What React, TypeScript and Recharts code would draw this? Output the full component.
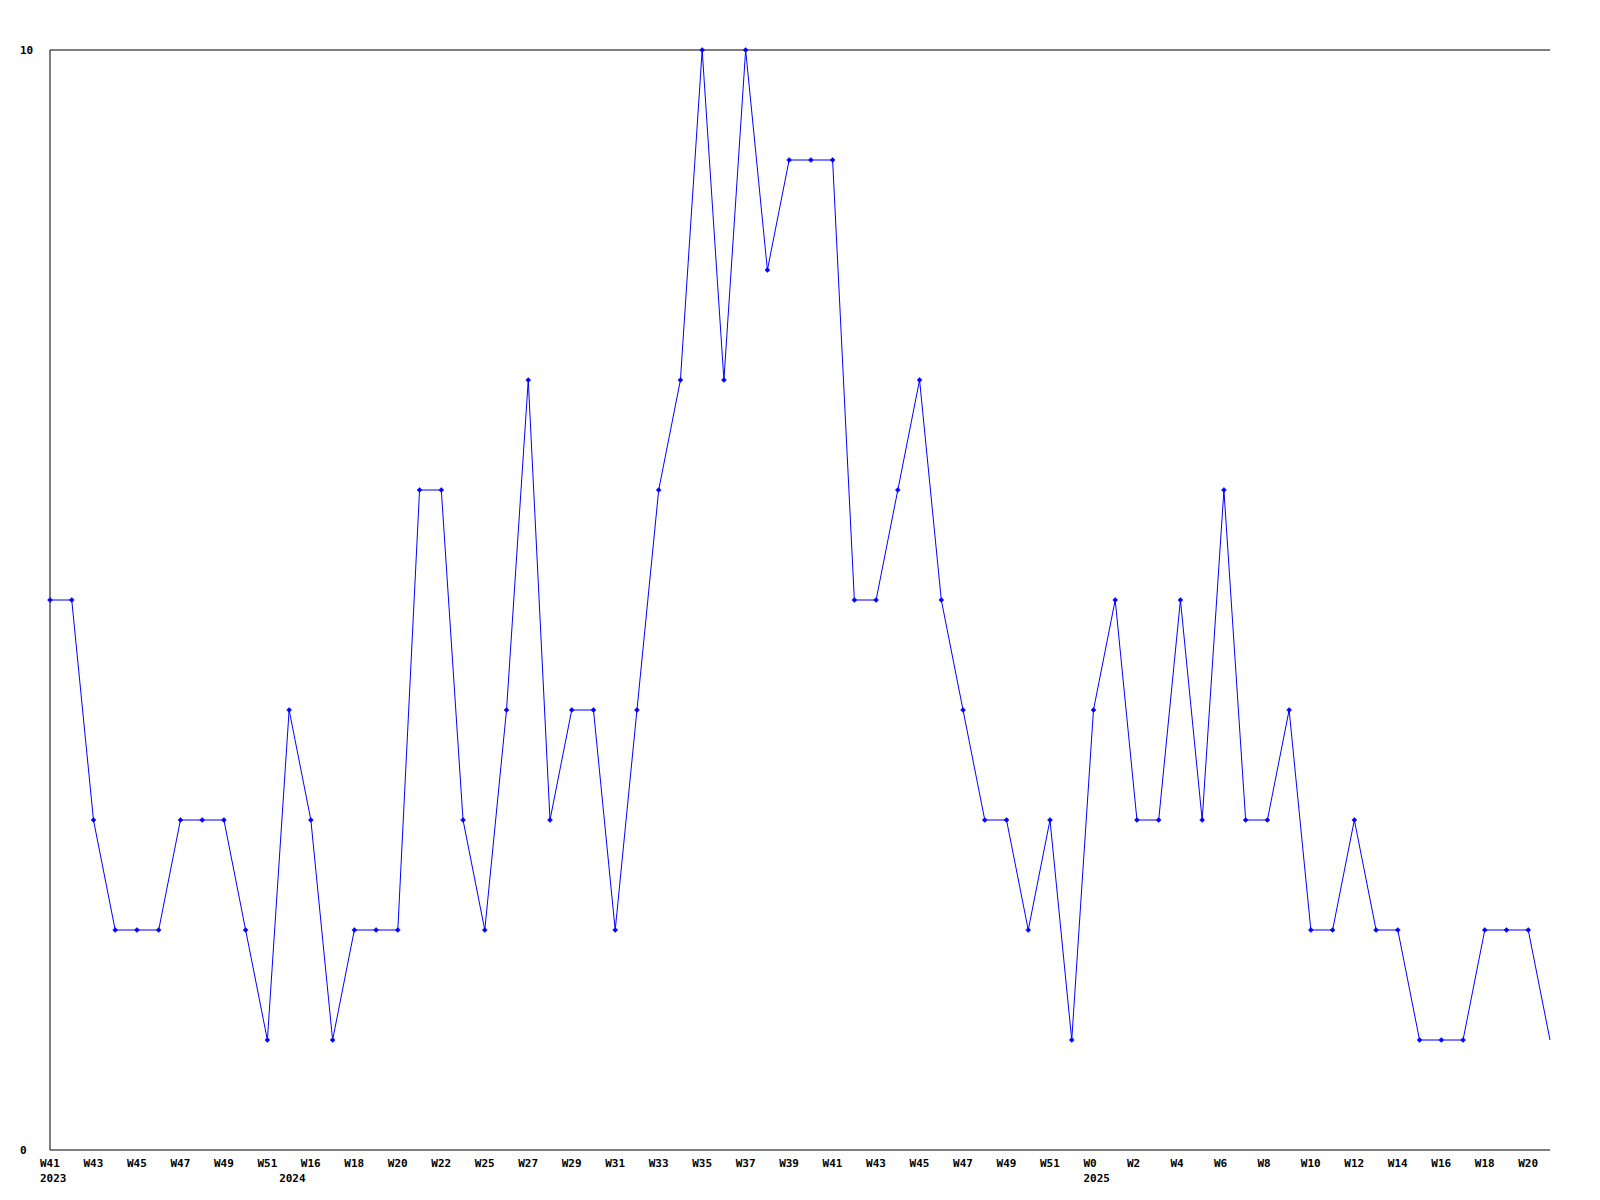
import React from 'react';
import { LineChart, Line, XAxis, YAxis, ReferenceLine } from 'recharts';

const weeks = [
  'W41', 'W42', 'W43', 'W44', 'W45', 'W46', 'W47', 'W48', 'W49', 'W50', 'W51',
  'W15', 'W16', 'W17', 'W18', 'W19', 'W20', 'W21', 'W22', 'W24', 'W25', 'W26',
  'W27', 'W28', 'W29', 'W30', 'W31', 'W32', 'W33', 'W34', 'W35', 'W36', 'W37',
  'W38', 'W39', 'W40', 'W41', 'W42', 'W43', 'W44', 'W45', 'W46', 'W47', 'W48',
  'W49', 'W50', 'W51', 'W52', 'W0', 'W1', 'W2', 'W3', 'W4', 'W5', 'W6', 'W7',
  'W8', 'W9', 'W10', 'W11', 'W12', 'W13', 'W14', 'W15', 'W16', 'W17', 'W18',
  'W19', 'W20', 'W21',
];

const counts = [
  5, 5, 3, 2, 2, 2, 3, 3, 3, 2, 1,
  4, 3, 1, 2, 2, 2, 6, 6, 3, 2, 4,
  7, 3, 4, 4, 2, 4, 6, 7, 10, 7, 10,
  8, 9, 9, 9, 5, 5, 6, 7, 5, 4, 3,
  3, 2, 3, 1, 4, 5, 3, 3, 5, 3, 6, 3,
  3, 4, 2, 2, 3, 2, 2, 1, 1, 1, 2,
  2, 2, 1,
];

// first point of each year
const yearStarts = [
  { index: 0, year: '2023' },
  { index: 11, year: '2024' },
  { index: 48, year: '2025' },
];

const yTicks = [0, 10];

const data = weeks.map((w, i) => ({ key: `${i}-${w}`, week: w, count: counts[i] }));

const FONT = '"DejaVu Sans Mono", monospace';

function WeekTick(props: any) {
  const { x, index } = props;
  const yr = yearStarts.find(y => y.index === index);
  return (
    <g>
      {index % 2 === 0 && (
        <text x={x - 10} y={1167} fontFamily={FONT} fontSize={11} fontWeight="bold" fill="#000" textAnchor="start">
          {weeks[index]}
        </text>
      )}
      {yr && (
        <text x={x - 10} y={1182} fontFamily={FONT} fontSize={11} fontWeight="bold" fill="#000" textAnchor="start">
          {yr.year}
        </text>
      )}
    </g>
  );
}

function CountTick(props: any) {
  const { y, payload } = props;
  return (
    <text x={20} y={y + 4} fontFamily={FONT} fontSize={11} fontWeight="bold" fill="#000" textAnchor="start">
      {payload.value}
    </text>
  );
}

function Marker(props: any) {
  const { cx, cy, index } = props;
  if (index === counts.length - 1) return <g key={`d-${index}`} />;
  return (
    <path
      key={`d-${index}`}
      d={`M${cx},${cy - 2.5} L${cx + 2.5},${cy} L${cx},${cy + 2.5} L${cx - 2.5},${cy} Z`}
      fill="#0000ff"
      stroke="#0000ff"
      strokeWidth={0.5}
    />
  );
}

export default function App() {
  return (
    <div style={{ position: 'absolute', left: 0, top: 0, width: 1600, height: 1200, background: '#fff' }}>
      <LineChart width={1600} height={1200} data={data} margin={{ top: 50, right: 50, bottom: 0, left: 0 }}>
        <XAxis
          dataKey="key"
          height={50}
          interval={0}
          tickLine={false}
          axisLine={{ stroke: '#000', strokeWidth: 1 }}
          tick={<WeekTick />}
        />
        <YAxis
          width={50}
          domain={[0, 10]}
          ticks={yTicks}
          tickLine={false}
          axisLine={{ stroke: '#000', strokeWidth: 1 }}
          tick={<CountTick />}
        />
        <ReferenceLine y={10} stroke="#000" strokeWidth={1} />
        <Line
          type="linear"
          dataKey="count"
          stroke="#0000ff"
          strokeWidth={1}
          dot={Marker}
          activeDot={false}
          isAnimationActive={false}
        />
      </LineChart>
    </div>
  );
}
